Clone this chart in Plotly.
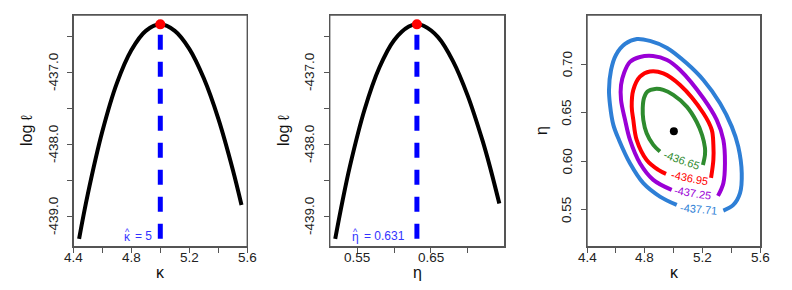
import plotly.graph_objects as go

# ---------------- data ----------------
kappa_grid = [4.44, 4.5, 4.6, 4.7, 4.8, 4.9, 5.0, 5.1, 5.2, 5.3, 5.4, 5.5, 5.56]
loglik_kappa = [-439.31, -438.69, -437.82, -437.15, -436.69, -436.42, -436.33,
                -436.42, -436.67, -437.08, -437.64, -438.35, -438.84]

eta_grid = [0.52, 0.53, 0.54, 0.56, 0.58, 0.60, 0.62, 0.631, 0.64, 0.66, 0.68,
            0.70, 0.72, 0.73, 0.743]
loglik_eta = [-439.31, -438.78, -438.30, -437.51, -436.93, -436.55, -436.36, -436.33,
              -436.35, -436.51, -436.84, -437.32, -437.94, -438.30, -438.82]

kappa_hat = 5.0
eta_hat = 0.631
loglik_max = -436.33
loglik_min = -439.31

kappa_ticks = [4.4, 4.6, 4.8, 5.0, 5.2, 5.4, 5.6]
kappa_ticklabels = ["4.4", "", "4.8", "", "5.2", "", "5.6"]
eta_ticks = [0.55, 0.60, 0.65, 0.70]
eta_ticklabels_x = ["0.55", "", "0.65", ""]
eta_ticklabels_y = ["0.55", "0.60", "0.65", "0.70"]
loglik_ticks = [-439.0, -438.5, -438.0, -437.5, -437.0, -436.5]
loglik_ticklabels = ["-439.0", "", "-438.0", "", "-437.0", ""]

contour_levels = ["-436.65", "-436.95", "-437.25", "-437.71"]

green_kappa = [4.904, 4.858, 4.812, 4.789, 4.785, 4.794, 4.818, 4.870, 4.927, 4.996,
               5.089, 5.158, 5.195, 5.215, 5.215, 5.201]
green_eta = [0.6101, 0.6170, 0.6290, 0.6427, 0.6550, 0.6653, 0.6720, 0.6746, 0.6736,
             0.6684, 0.6564, 0.6406, 0.6272, 0.6139, 0.6067, 0.5964]

red_kappa = [4.946, 4.893, 4.812, 4.743, 4.720, 4.709, 4.720, 4.766, 4.835, 4.927,
             5.043, 5.204, 5.262, 5.273, 5.273, 5.257]
red_eta = [0.5871, 0.5913, 0.6015, 0.6221, 0.6427, 0.6564, 0.6736, 0.6872, 0.6926,
           0.6907, 0.6787, 0.6496, 0.6324, 0.6170, 0.6015, 0.5830]

purple_kappa = [4.985, 4.858, 4.766, 4.697, 4.663, 4.635, 4.635, 4.656, 4.697, 4.766,
                4.856, 4.953, 5.043, 5.204, 5.296, 5.342, 5.353, 5.342, 5.305]
purple_eta = [0.5707, 0.5810, 0.5981, 0.6221, 0.6427, 0.6633, 0.6787, 0.6910, 0.7024,
              0.7075, 0.7085, 0.7044, 0.6941, 0.6650, 0.6427, 0.6221, 0.5981,
              0.5776, 0.5645]

blue_kappa = [5.020, 4.904, 4.789, 4.697, 4.621, 4.582, 4.559, 4.552, 4.566, 4.600,
              4.663, 4.745, 4.835, 4.953, 5.089, 5.204, 5.319, 5.400, 5.445, 5.469,
              5.457, 5.411, 5.342]
blue_eta = [0.5552, 0.5638, 0.5776, 0.5981, 0.6221, 0.6376, 0.6581, 0.6736, 0.6941,
            0.7096, 0.7209, 0.7260, 0.7240, 0.7168, 0.7010, 0.6838, 0.6599, 0.6358,
            0.6152, 0.5879, 0.5673, 0.5552, 0.5494]

label_kappa = [5.052, 5.110, 5.132, 5.167]
label_eta = [0.6015, 0.5827, 0.5673, 0.5508]
label_angle = [19, 11, 9, 5]

# ---------------- styles ----------------
GREEN = "#2E8B2E"
RED = "#FF0000"
PURPLE = "#9A00D6"
BLUE = "#2E7FD6"
HATBLUE = "#3333FF"
FRAME = "#555555"
FONT = "Liberation Sans, Arial, sans-serif"

fig = go.Figure()

# panel 1
fig.add_trace(go.Scatter(x=kappa_grid, y=loglik_kappa, mode="lines", line_shape="spline",
                         line=dict(color="black", width=4), xaxis="x", yaxis="y"))
fig.add_trace(go.Scatter(x=[kappa_hat, kappa_hat], y=[loglik_min, loglik_max], mode="lines",
                         line=dict(color="#0000FF", width=5, dash="15px,12px"), xaxis="x", yaxis="y"))
fig.add_trace(go.Scatter(x=[kappa_hat], y=[loglik_max], mode="markers",
                         marker=dict(color="#FF0000", size=10), xaxis="x", yaxis="y"))

# panel 2
fig.add_trace(go.Scatter(x=eta_grid, y=loglik_eta, mode="lines", line_shape="spline",
                         line=dict(color="black", width=4), xaxis="x2", yaxis="y2"))
fig.add_trace(go.Scatter(x=[eta_hat, eta_hat], y=[loglik_min, loglik_max], mode="lines",
                         line=dict(color="#0000FF", width=5, dash="15px,12px"), xaxis="x2", yaxis="y2"))
fig.add_trace(go.Scatter(x=[eta_hat], y=[loglik_max], mode="markers",
                         marker=dict(color="#FF0000", size=10), xaxis="x2", yaxis="y2"))

# panel 3 contours
for kx, ey, col in [(blue_kappa, blue_eta, BLUE), (purple_kappa, purple_eta, PURPLE),
                    (red_kappa, red_eta, RED), (green_kappa, green_eta, GREEN)]:
    fig.add_trace(go.Scatter(x=kx, y=ey, mode="lines", line_shape="spline",
                             line=dict(color=col, width=4, smoothing=1.0),
                             xaxis="x3", yaxis="y3"))
fig.add_trace(go.Scatter(x=[kappa_hat], y=[eta_hat], mode="markers",
                         marker=dict(color="black", size=8), xaxis="x3", yaxis="y3"))


def ptx(px):
    return px / 792.0


def pty(py):
    return 1 - py / 290.0


annotations = []
for lab, lk, le, ang, col in zip(contour_levels, label_kappa, label_eta, label_angle,
                                  [GREEN, RED, PURPLE, BLUE]):
    annotations.append(dict(x=lk, y=le, xref="x3", yref="y3", text=lab, showarrow=False,
                            textangle=ang, font=dict(family=FONT, size=11, color=col)))

# estimate labels (hat drawn as a separate caret above the Greek letter)
for txt, x, y, size, anchor in [("\u03ba", 127.2, 237.0, 12, "center"),
                                ("^", 127.2, 232.0, 9, "center"),
                                ("= 5", 133.0, 236.0, 12, "left"),
                                ("\u03b7", 355.0, 237.0, 12, "center"),
                                ("^", 355.0, 232.0, 9, "center"),
                                ("= 0.631", 361.5, 236.0, 12, "left")]:
    annotations.append(dict(x=ptx(x), y=pty(y), xref="paper", yref="paper", text=txt,
                            showarrow=False, xanchor=anchor, yanchor="middle",
                            font=dict(family=FONT, size=size, color=HATBLUE)))

# tick labels placed like R's axis() labels
TICKFONT = dict(family=FONT, size=13.5, color="#222")
for xr, vals, labs in [("x", kappa_ticks, kappa_ticklabels),
                       ("x2", eta_ticks, eta_ticklabels_x),
                       ("x3", kappa_ticks, kappa_ticklabels)]:
    for v, lab in zip(vals, labs):
        if lab:
            annotations.append(dict(x=v, y=pty(257.5), xref=xr, yref="paper", text=lab,
                                    showarrow=False, xanchor="center", yanchor="middle",
                                    font=TICKFONT))
for yr, xpix, vals, labs in [("y", 53.5, loglik_ticks, loglik_ticklabels),
                             ("y2", 309.5, loglik_ticks, loglik_ticklabels),
                             ("y3", 567.0, eta_ticks, eta_ticklabels_y)]:
    for v, lab in zip(vals, labs):
        if lab:
            annotations.append(dict(x=ptx(xpix), y=v, xref="paper", yref=yr, text=lab,
                                    showarrow=False, textangle=-90, xanchor="center",
                                    yanchor="middle", font=TICKFONT))

# axis titles
for txt, x, y, ang in [("log \u2113", 26, 131, -90), ("log \u2113", 283, 131, -90),
                       ("\u03b7", 541, 131, -90),
                       ("\u03ba", 160, 272, 0), ("\u03b7", 417, 272, 0), ("\u03ba", 674, 272, 0)]:
    annotations.append(dict(x=ptx(x), y=pty(y), xref="paper", yref="paper", text=txt,
                            showarrow=False, textangle=ang, xanchor="center", yanchor="middle",
                            font=dict(family=FONT, size=16, color="#111")))

# frame around each panel
shapes = []
for xr, yr in [("x", "y"), ("x2", "y2"), ("x3", "y3")]:
    shapes.append(dict(type="rect", xref=xr + " domain", yref=yr + " domain",
                       x0=0, x1=1, y0=0, y1=1, line=dict(color=FRAME, width=1.4),
                       fillcolor="rgba(0,0,0,0)", layer="above"))

axis_common = dict(showline=True, mirror=True, linecolor=FRAME, linewidth=1.4,
                   ticks="outside", ticklen=5, tickcolor=FRAME, tickwidth=1.4, showgrid=False,
                   zeroline=False, automargin=False, showticklabels=False)

ydom = [1 - 246.7 / 290, 1 - 15 / 290]

fig.update_layout(
    width=792, height=290, margin=dict(l=0, r=0, t=0, b=0, autoexpand=False),
    paper_bgcolor="white", plot_bgcolor="white", showlegend=False,
    annotations=annotations, shapes=shapes,
    xaxis=dict(domain=[73.3 / 792, 247.3 / 792], range=[4.4, 5.6], tickvals=kappa_ticks,
               anchor="y", **axis_common),
    yaxis=dict(domain=ydom, range=[-439.42, -436.20], tickvals=loglik_ticks,
               anchor="x", **axis_common),
    xaxis2=dict(domain=[329.7 / 792, 504.7 / 792], range=[0.5125, 0.7503], tickvals=eta_ticks,
                anchor="y2", **axis_common),
    yaxis2=dict(domain=ydom, range=[-439.42, -436.20], tickvals=loglik_ticks,
                anchor="x2", **axis_common),
    xaxis3=dict(domain=[587 / 792, 760.7 / 792], range=[4.4, 5.6], tickvals=kappa_ticks,
                anchor="y3", **axis_common),
    yaxis3=dict(domain=ydom, range=[0.5122, 0.7507], tickvals=eta_ticks,
                anchor="x3", **axis_common),
)

fig.write_html("out.html", config={"displayModeBar": False},
               post_script="document.body.style.margin='0px';document.body.style.padding='0px';")
